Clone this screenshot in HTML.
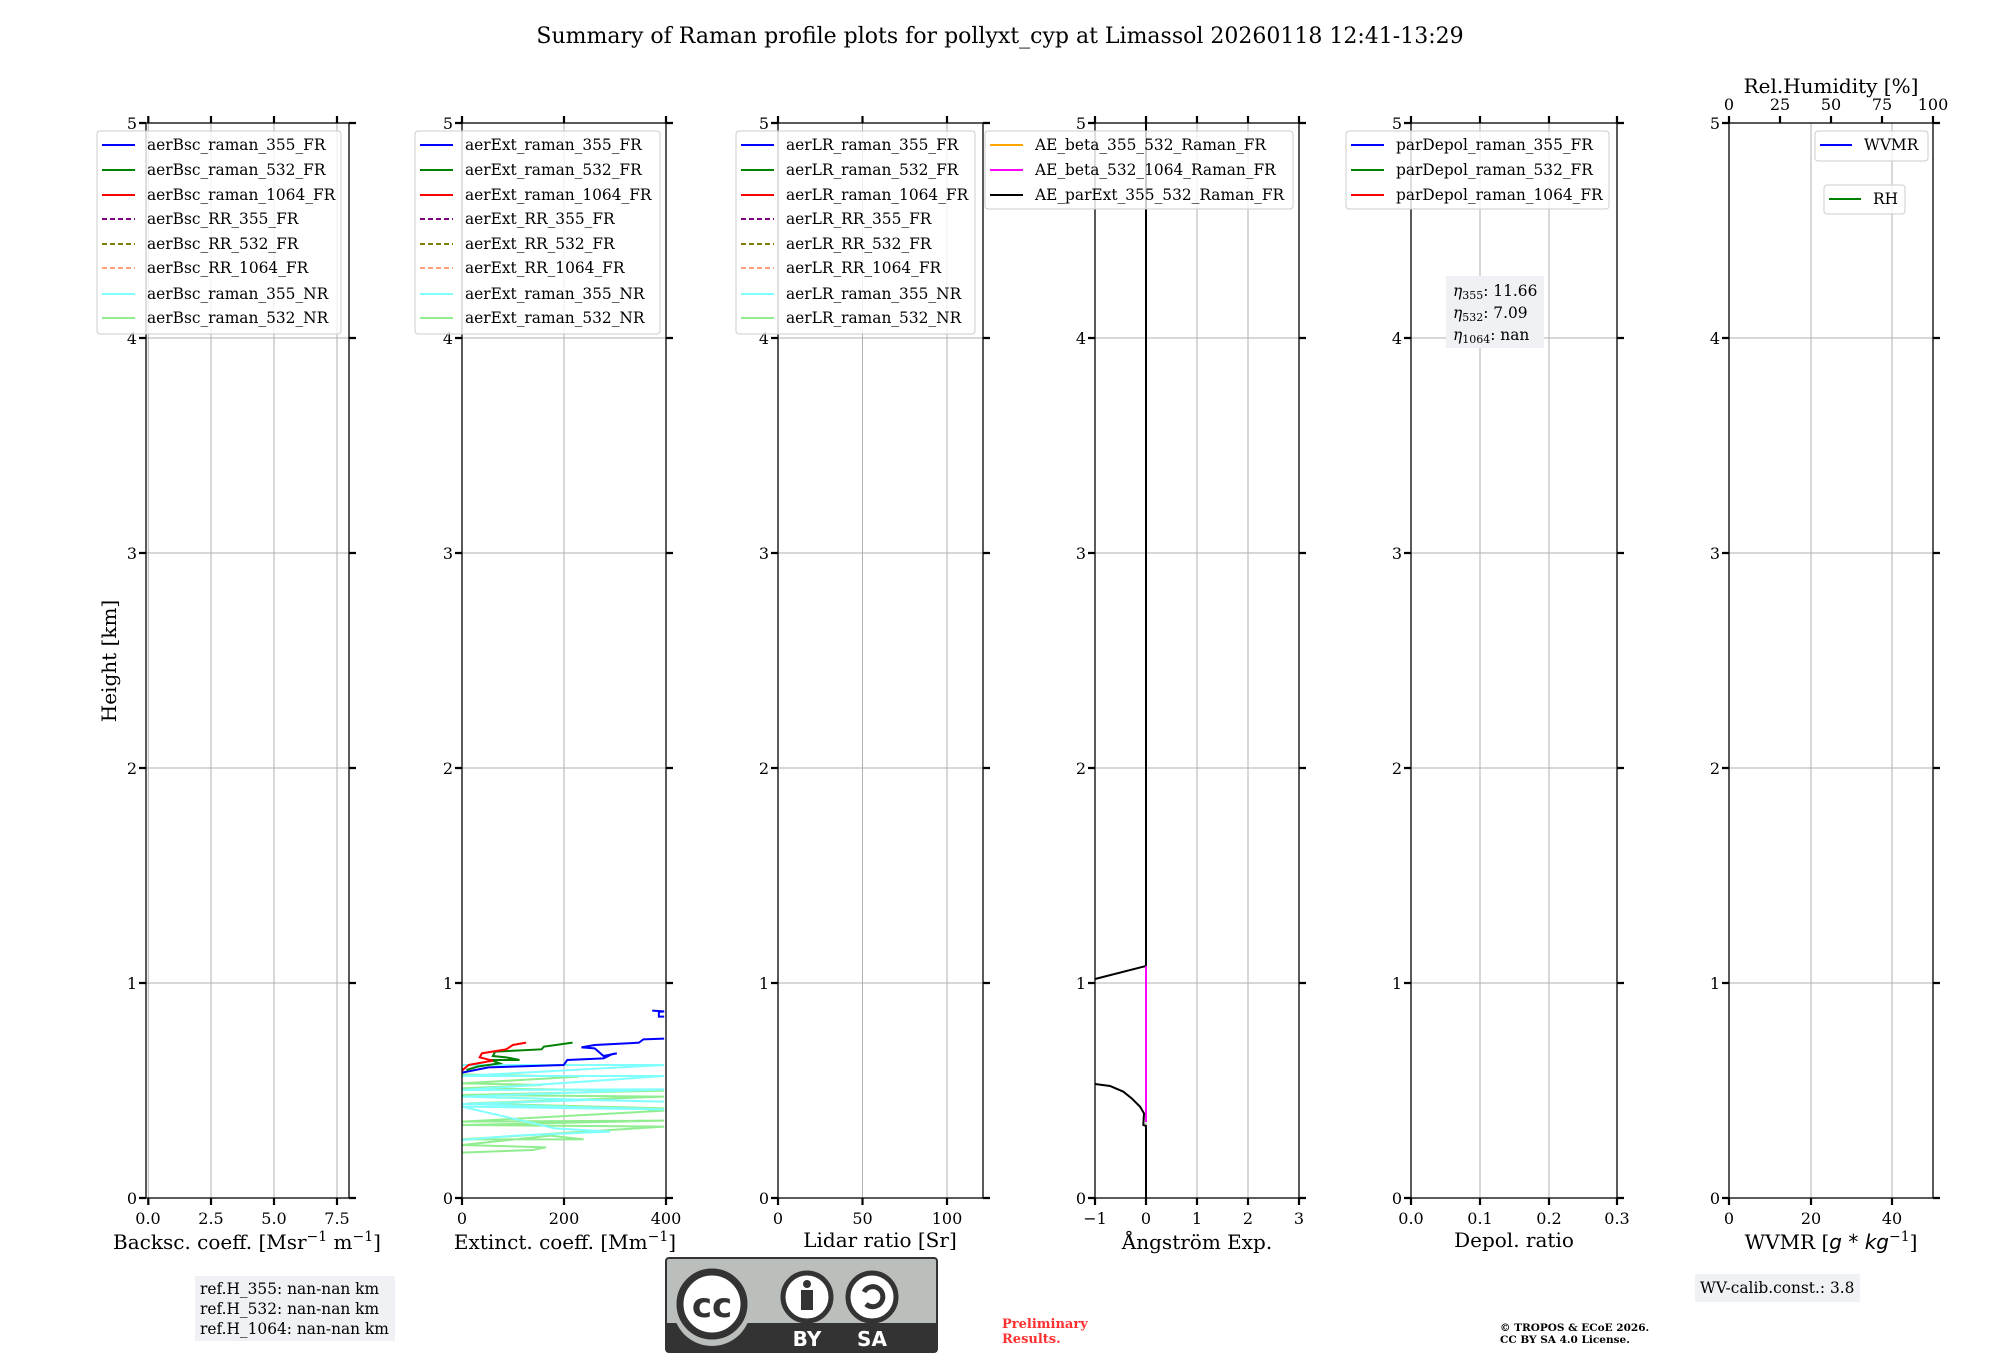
<!DOCTYPE html>
<html><head><meta charset="utf-8"><style>
html,body{margin:0;padding:0;background:#fff;width:2000px;height:1360px;overflow:hidden}
svg text{font-family:"DejaVu Serif","Liberation Serif",serif;fill:#000}
.tk{font-size:16px}
.xl{font-size:20px}
.lg{font-size:15.4px}
.grid{stroke:#b0b0b0;stroke-width:1}
.sp{stroke:#000;stroke-width:1.3;fill:none}
.tick{stroke:#000;stroke-width:2.2}
.lb{fill:#fff;fill-opacity:.8;stroke:#cccccc;stroke-width:1}
</style></head><body>
<svg width="2000" height="1360" viewBox="0 0 2000 1360" xmlns="http://www.w3.org/2000/svg">
<text x="1000" y="43" text-anchor="middle" style="font-size:22px">Summary of Raman profile plots for pollyxt_cyp at Limassol 20260118 12:41-13:29</text>
<text transform="translate(116,661) rotate(-90)" text-anchor="middle" class="xl">Height [km]</text>

<g class="grid">
<path d="M146 338H349M146 553H349M146 768H349M146 983H349"/>
<path d="M462 338H666M462 553H666M462 768H666M462 983H666"/>
<path d="M778 338H983M778 553H983M778 768H983M778 983H983"/>
<path d="M1095 338H1299M1095 553H1299M1095 768H1299M1095 983H1299"/>
<path d="M1411 338H1617M1411 553H1617M1411 768H1617M1411 983H1617"/>
<path d="M1729 338H1933M1729 553H1933M1729 768H1933M1729 983H1933"/>
<path d="M148.3 123V1198M211 123V1198M274 123V1198M337 123V1198"/>
<path d="M564 123V1198"/>
<path d="M862.5 123V1198M947 123V1198"/>
<path d="M1146 123V1198M1197 123V1198M1248 123V1198"/>
<path d="M1480 123V1198M1549 123V1198"/>
<path d="M1811 123V1198M1892 123V1198"/>
</g>

<g fill="none" stroke-width="2" transform="translate(400,950) scale(0.4425,0.33333)">
<polyline vector-effect="non-scaling-stroke" stroke="#90ee90" points="140,373 405,380 140,400 322,405 140,415 597,422 140,435 597,440 155,460 597,475 560,480 597,482 140,515 597,512 140,525 597,530 140,568 415,568 340,557 140,585 330,592 300,600 140,608"/>
<polyline vector-effect="non-scaling-stroke" stroke="#80ffff" points="140,345 597,345 140,378 597,378 140,420 597,418 140,440 597,455 430,450 140,462 597,478 140,470 350,535 475,545 260,557 140,570"/>
<polyline vector-effect="non-scaling-stroke" stroke="#0000ff" points="140,368 200,352 370,345 378,330 460,325 480,312 490,310 460,318 440,295 410,292 440,285 540,278 550,268 597,266"/>
<polyline vector-effect="non-scaling-stroke" stroke="#0000ff" points="570,182 597,184 585,186 585,200 597,200"/>
<polyline vector-effect="non-scaling-stroke" stroke="#008000" points="150,360 175,350 225,340 205,330 270,330 240,322 210,318 215,305 320,298 325,290 390,278"/>
<polyline vector-effect="non-scaling-stroke" stroke="#ff0000" points="140,362 155,345 210,332 180,322 185,310 240,298 255,285 285,278"/>
</g>

<g fill="none" stroke-width="2">
<path d="M1146 123V966L1095 979" stroke="#000"/>
<path d="M1146 966V1122" stroke="#ff00ff"/>
<g transform="translate(1060,940) scale(0.33333)">
<polyline vector-effect="non-scaling-stroke" stroke="#000" points="105,432 150,438 190,455 215,475 240,500 252,520 250,555 258,558 258,775"/>
</g>
</g>

<rect class="sp" x="146" y="123" width="203" height="1075"/>
<rect class="sp" x="462" y="123" width="204" height="1075"/>
<rect class="sp" x="778" y="123" width="205" height="1075"/>
<rect class="sp" x="1095" y="123" width="204" height="1075"/>
<rect class="sp" x="1411" y="123" width="206" height="1075"/>
<rect class="sp" x="1729" y="123" width="204" height="1075"/>

<g class="tick">
<path d="M139 123H146M139 338H146M139 553H146M139 768H146M139 983H146M139 1198H146 M349 123H356M349 338H356M349 553H356M349 768H356M349 983H356M349 1198H356"/>
<path d="M455 123H462M455 338H462M455 553H462M455 768H462M455 983H462M455 1198H462 M666 123H673M666 338H673M666 553H673M666 768H673M666 983H673M666 1198H673"/>
<path d="M771 123H778M771 338H778M771 553H778M771 768H778M771 983H778M771 1198H778 M983 123H990M983 338H990M983 553H990M983 768H990M983 983H990M983 1198H990"/>
<path d="M1088 123H1095M1088 338H1095M1088 553H1095M1088 768H1095M1088 983H1095M1088 1198H1095 M1299 123H1306M1299 338H1306M1299 553H1306M1299 768H1306M1299 983H1306M1299 1198H1306"/>
<path d="M1404 123H1411M1404 338H1411M1404 553H1411M1404 768H1411M1404 983H1411M1404 1198H1411 M1617 123H1624M1617 338H1624M1617 553H1624M1617 768H1624M1617 983H1624M1617 1198H1624"/>
<path d="M1722 123H1729M1722 338H1729M1722 553H1729M1722 768H1729M1722 983H1729M1722 1198H1729 M1933 123H1940M1933 338H1940M1933 553H1940M1933 768H1940M1933 983H1940M1933 1198H1940"/>
<path d="M148.3 1198V1205M211 1198V1205M274 1198V1205M337 1198V1205 M148.3 116V123M211 116V123M274 116V123M337 116V123"/>
<path d="M462 1198V1205M564 1198V1205M666 1198V1205 M462 116V123M564 116V123M666 116V123"/>
<path d="M778 1198V1205M862.5 1198V1205M947 1198V1205 M778 116V123M862.5 116V123M947 116V123"/>
<path d="M1095 1198V1205M1146 1198V1205M1197 1198V1205M1248 1198V1205M1299 1198V1205 M1095 116V123M1146 116V123M1197 116V123M1248 116V123M1299 116V123"/>
<path d="M1411 1198V1205M1480 1198V1205M1549 1198V1205M1617 1198V1205 M1411 116V123M1480 116V123M1549 116V123M1617 116V123"/>
<path d="M1729 1198V1205M1811 1198V1205M1892 1198V1205 M1729 116V123M1780 116V123M1831 116V123M1882 116V123M1933 116V123"/>
</g>

<g class="tk" text-anchor="end">
<text x="137" y="129">5</text><text x="137" y="344">4</text><text x="137" y="559">3</text><text x="137" y="774">2</text><text x="137" y="989">1</text><text x="137" y="1204">0</text>
<text x="453" y="129">5</text><text x="453" y="344">4</text><text x="453" y="559">3</text><text x="453" y="774">2</text><text x="453" y="989">1</text><text x="453" y="1204">0</text>
<text x="769" y="129">5</text><text x="769" y="344">4</text><text x="769" y="559">3</text><text x="769" y="774">2</text><text x="769" y="989">1</text><text x="769" y="1204">0</text>
<text x="1086" y="129">5</text><text x="1086" y="344">4</text><text x="1086" y="559">3</text><text x="1086" y="774">2</text><text x="1086" y="989">1</text><text x="1086" y="1204">0</text>
<text x="1402" y="129">5</text><text x="1402" y="344">4</text><text x="1402" y="559">3</text><text x="1402" y="774">2</text><text x="1402" y="989">1</text><text x="1402" y="1204">0</text>
<text x="1720" y="129">5</text><text x="1720" y="344">4</text><text x="1720" y="559">3</text><text x="1720" y="774">2</text><text x="1720" y="989">1</text><text x="1720" y="1204">0</text>
</g>
<g class="tk" text-anchor="middle">
<text x="148" y="1224">0.0</text><text x="211" y="1224">2.5</text><text x="274" y="1224">5.0</text><text x="337" y="1224">7.5</text>
<text x="462" y="1224">0</text><text x="564" y="1224">200</text><text x="666" y="1224">400</text>
<text x="778" y="1224">0</text><text x="862.5" y="1224">50</text><text x="947" y="1224">100</text>
<text x="1095" y="1224">−1</text><text x="1146" y="1224">0</text><text x="1197" y="1224">1</text><text x="1248" y="1224">2</text><text x="1299" y="1224">3</text>
<text x="1411" y="1224">0.0</text><text x="1480" y="1224">0.1</text><text x="1549" y="1224">0.2</text><text x="1617" y="1224">0.3</text>
<text x="1729" y="1224">0</text><text x="1811" y="1224">20</text><text x="1892" y="1224">40</text>
<text x="1729" y="110">0</text><text x="1780" y="110">25</text><text x="1831" y="110">50</text><text x="1882" y="110">75</text><text x="1933" y="110">100</text>
</g>
<g class="xl" text-anchor="middle">
<text x="247" y="1249">Backsc. coeff. [Msr<tspan dy="-8" font-size="14">−1</tspan><tspan dy="8"> m</tspan><tspan dy="-8" font-size="14">−1</tspan><tspan dy="8">]</tspan></text>
<text x="565" y="1249">Extinct. coeff. [Mm<tspan dy="-8" font-size="14">−1</tspan><tspan dy="8">]</tspan></text>
<text x="880" y="1247">Lidar ratio [Sr]</text>
<text x="1197" y="1249">Ångström Exp.</text>
<text x="1514" y="1247">Depol. ratio</text>
<text x="1831" y="1249">WVMR [<tspan font-style="italic" font-family="DejaVu Sans">g * kg</tspan><tspan dy="-8" font-size="14">−1</tspan><tspan dy="8">]</tspan></text>
<text x="1831" y="93">Rel.Humidity [%]</text>
</g>

<rect class="lb" x="97" y="131" width="244" height="203" rx="3"/>
<g stroke-width="2">
<path d="M102 145H135" stroke="#0000ff"/><path d="M102 170H135" stroke="#008000"/><path d="M102 195H135" stroke="#ff0000"/>
<path d="M102 219H135" stroke="#800080" stroke-dasharray="5,3"/><path d="M102 244H135" stroke="#808000" stroke-dasharray="5,3"/><path d="M102 268H135" stroke="#ffa07a" stroke-dasharray="5,3"/>
<path d="M102 294H135" stroke="#80ffff"/><path d="M102 318H135" stroke="#90ee90"/>
</g>
<g class="lg"><text x="147" y="150">aerBsc_raman_355_FR</text><text x="147" y="175">aerBsc_raman_532_FR</text><text x="147" y="200">aerBsc_raman_1064_FR</text><text x="147" y="224">aerBsc_RR_355_FR</text><text x="147" y="249">aerBsc_RR_532_FR</text><text x="147" y="273">aerBsc_RR_1064_FR</text><text x="147" y="299">aerBsc_raman_355_NR</text><text x="147" y="323">aerBsc_raman_532_NR</text></g>

<rect class="lb" x="415" y="131" width="245" height="203" rx="3"/>
<g stroke-width="2">
<path d="M420 145H453" stroke="#0000ff"/><path d="M420 170H453" stroke="#008000"/><path d="M420 195H453" stroke="#ff0000"/>
<path d="M420 219H453" stroke="#800080" stroke-dasharray="5,3"/><path d="M420 244H453" stroke="#808000" stroke-dasharray="5,3"/><path d="M420 268H453" stroke="#ffa07a" stroke-dasharray="5,3"/>
<path d="M420 294H453" stroke="#80ffff"/><path d="M420 318H453" stroke="#90ee90"/>
</g>
<g class="lg"><text x="465" y="150">aerExt_raman_355_FR</text><text x="465" y="175">aerExt_raman_532_FR</text><text x="465" y="200">aerExt_raman_1064_FR</text><text x="465" y="224">aerExt_RR_355_FR</text><text x="465" y="249">aerExt_RR_532_FR</text><text x="465" y="273">aerExt_RR_1064_FR</text><text x="465" y="299">aerExt_raman_355_NR</text><text x="465" y="323">aerExt_raman_532_NR</text></g>

<rect class="lb" x="736" y="131" width="239" height="203" rx="3"/>
<g stroke-width="2">
<path d="M741 145H774" stroke="#0000ff"/><path d="M741 170H774" stroke="#008000"/><path d="M741 195H774" stroke="#ff0000"/>
<path d="M741 219H774" stroke="#800080" stroke-dasharray="5,3"/><path d="M741 244H774" stroke="#808000" stroke-dasharray="5,3"/><path d="M741 268H774" stroke="#ffa07a" stroke-dasharray="5,3"/>
<path d="M741 294H774" stroke="#80ffff"/><path d="M741 318H774" stroke="#90ee90"/>
</g>
<g class="lg"><text x="786" y="150">aerLR_raman_355_FR</text><text x="786" y="175">aerLR_raman_532_FR</text><text x="786" y="200">aerLR_raman_1064_FR</text><text x="786" y="224">aerLR_RR_355_FR</text><text x="786" y="249">aerLR_RR_532_FR</text><text x="786" y="273">aerLR_RR_1064_FR</text><text x="786" y="299">aerLR_raman_355_NR</text><text x="786" y="323">aerLR_raman_532_NR</text></g>

<rect class="lb" x="985" y="131" width="308" height="78" rx="3"/>
<g stroke-width="2"><path d="M990 145H1023" stroke="#ffa500"/><path d="M990 170H1023" stroke="#ff00ff"/><path d="M990 195H1023" stroke="#000"/></g>
<g class="lg"><text x="1035" y="150">AE_beta_355_532_Raman_FR</text><text x="1035" y="175">AE_beta_532_1064_Raman_FR</text><text x="1035" y="200">AE_parExt_355_532_Raman_FR</text></g>

<rect class="lb" x="1346" y="131" width="263" height="78" rx="3"/>
<g stroke-width="2"><path d="M1351 145H1384" stroke="#0000ff"/><path d="M1351 170H1384" stroke="#008000"/><path d="M1351 195H1384" stroke="#ff0000"/></g>
<g class="lg"><text x="1396" y="150">parDepol_raman_355_FR</text><text x="1396" y="175">parDepol_raman_532_FR</text><text x="1396" y="200">parDepol_raman_1064_FR</text></g>

<rect x="1446" y="276" width="98" height="72" fill="#f0f1f5"/>
<g class="lg">
<text x="1453" y="296"><tspan font-style="italic">η</tspan><tspan font-size="11" dy="3">355</tspan><tspan dy="-3">: 11.66</tspan></text>
<text x="1453" y="318"><tspan font-style="italic">η</tspan><tspan font-size="11" dy="3">532</tspan><tspan dy="-3">: 7.09</tspan></text>
<text x="1453" y="340"><tspan font-style="italic">η</tspan><tspan font-size="11" dy="3">1064</tspan><tspan dy="-3">: nan</tspan></text>
</g>

<rect class="lb" x="1815" y="131" width="113" height="30" rx="3"/>
<path d="M1820 145H1852" stroke="#0000ff" stroke-width="2"/>
<text class="lg" x="1864" y="150">WVMR</text>
<rect class="lb" x="1824" y="185" width="81" height="29" rx="3"/>
<path d="M1829 199H1861" stroke="#008000" stroke-width="2"/>
<text class="lg" x="1873" y="204">RH</text>

<rect x="195" y="1276" width="200" height="65" fill="#f0f1f5"/>
<g class="lg"><text x="200" y="1294">ref.H_355: nan-nan km</text><text x="200" y="1314">ref.H_532: nan-nan km</text><text x="200" y="1334">ref.H_1064: nan-nan km</text></g>

<rect x="1695" y="1274" width="165" height="28" fill="#f0f1f5"/>
<text class="lg" x="1700" y="1293">WV-calib.const.: 3.8</text>

<g>
<rect x="666" y="1258" width="271" height="94" rx="3" fill="#bbbfbb" stroke="#333" stroke-width="2"/>
<rect x="666" y="1323" width="271" height="29" fill="#333"/>
<circle cx="712" cy="1307" r="39" fill="#bbbfbb"/>
<circle cx="712" cy="1304" r="32" fill="#fff" stroke="#333" stroke-width="7"/>
<text x="712" y="1317" text-anchor="middle" style="font-family:'DejaVu Sans',sans-serif;font-weight:bold;font-size:34px;fill:#333">cc</text>
<circle cx="807" cy="1297" r="24" fill="#fff" stroke="#333" stroke-width="5"/>
<circle cx="807" cy="1284" r="4" fill="#333"/>
<rect x="801" y="1290" width="12" height="20" fill="#333"/>
<circle cx="872" cy="1297" r="24" fill="#fff" stroke="#333" stroke-width="5"/>
<path d="M864 1292 A10 10 0 1 1 866 1304" fill="none" stroke="#333" stroke-width="5"/>
<text x="807" y="1346" text-anchor="middle" style="font-family:'DejaVu Sans',sans-serif;font-weight:bold;font-size:20px;fill:#fff">BY</text>
<text x="872" y="1346" text-anchor="middle" style="font-family:'DejaVu Sans',sans-serif;font-weight:bold;font-size:20px;fill:#fff">SA</text>
</g>

<text x="1002" y="1328" style="font-size:13px;font-weight:bold;fill:#ff3030">Preliminary</text>
<text x="1002" y="1343" style="font-size:13px;font-weight:bold;fill:#ff3030">Results.</text>
<text x="1500" y="1331" style="font-size:10.5px;font-weight:bold">© TROPOS &amp; ECoE 2026.</text>
<text x="1500" y="1343" style="font-size:10.5px;font-weight:bold">CC BY SA 4.0 License.</text>
</svg>
</body></html>
